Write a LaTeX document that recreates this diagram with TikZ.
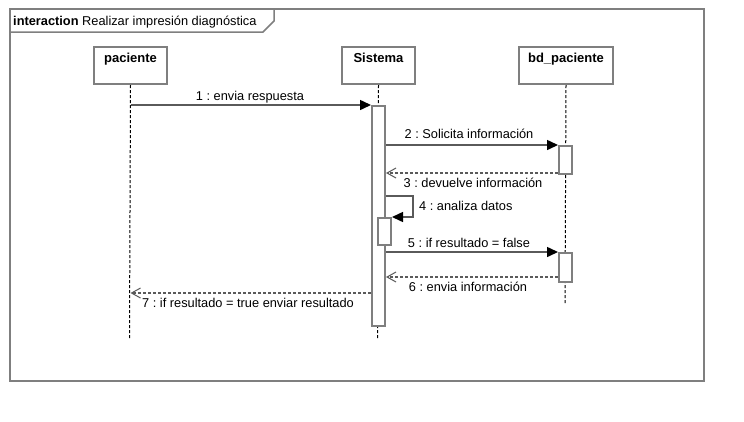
\documentclass[tikz,border=0pt]{standalone}
\usepackage{fontspec}
\setmainfont{Liberation Sans}
\usetikzlibrary{arrows.meta}
\definecolor{boxgray}{HTML}{7F7F7F}
\definecolor{msggray}{HTML}{5A5A5A}
\frenchspacing
\begin{document}
\begin{tikzpicture}[x=1pt,y=-1pt,
  every node/.style={font=\fontsize{12.8}{15}\selectfont},
  lifebox/.style={draw=boxgray, line width=2pt, fill=white, minimum height=37pt, inner sep=0pt, anchor=north west},
  boxtitle/.style={font=\bfseries\fontsize{13}{15}\selectfont, anchor=north, inner sep=0pt},
  actbar/.style={draw=boxgray, line width=2pt, fill=white, minimum width=13pt, inner sep=0pt, anchor=north west},
  lifeline/.style={draw=black, line width=1pt, dash pattern=on 3pt off 2pt},
  syncmsg/.style={draw=msggray, line width=1.5pt, -{Triangle[length=11pt,width=10pt,color=black]}},
  retmsg/.style={draw=msggray, line width=1.4pt, dash pattern=on 3pt off 2pt, -{Straight Barb[length=9pt,width=10pt,line width=1pt]}},
  msglabel/.style={inner sep=0pt, anchor=base, text=black}
]
\useasboundingbox (0,0) rectangle (744,421);
\fill[white] (0,0) rectangle (744,421);

% frame
\draw[boxgray, line width=2pt] (10,9) rectangle (704,381);
\draw[boxgray, line width=1.5pt] (10,32) -- (263,32) -- (274,21) -- (274,9);
\node[anchor=base west, inner sep=0pt] (ftitle) at (13,25) {\textbf{interaction} Realizar impresión diagnóstica};

% lifeline heads
\node[lifebox, minimum width=73pt] (pac) at (93,46) {};
\node[boxtitle] (pacT) at ([yshift=-6.5pt]pac.north) {paciente};
\node[lifebox, minimum width=73pt] (sys) at (341,46) {};
\node[boxtitle] (sysT) at ([yshift=-6.5pt]sys.north) {Sistema};
\node[lifebox, minimum width=94pt] (bd) at (518,46) {};
\node[boxtitle] (bdT) at ([yshift=-6.5pt]bd.north) {bd\_paciente};

% lifeline ends
\coordinate (pacEnd) at (129.5,338);
\coordinate (sysEnd) at (377.5,338);
\coordinate (bdEnd) at (565,303);
\draw[lifeline] (pac.south) -- (pacEnd);
\draw[lifeline] (sys.south) -- (sysEnd);
\draw[lifeline] (bd.south) -- (bdEnd);

% activation bars
\node[actbar, minimum height=220pt] (sysbar) at (371,105) {};
\node[actbar, minimum height=28pt] (bdbar1) at (558,145) {};
\node[actbar, minimum height=27pt] (sysbar2) at (377,217) {};
\node[actbar, minimum height=29pt] (bdbar2) at (558,252) {};

% messages
\draw[syncmsg] (pac.south |- sysbar.north west) -- (sysbar.north west);
\node[msglabel] (l1) at (250,100) {1 : envia respuesta};

\draw[syncmsg] (sysbar.east |- bdbar1.north west) -- (bdbar1.north west);
\node[msglabel] (l2) at (469,138) {2 : Solicita información};

\coordinate (m3) at (0,173);
\draw[retmsg] (bdbar1.west |- m3) -- (sysbar.east |- m3);
\node[msglabel] (l3) at (473,187) {3 : devuelve información};

\coordinate (selfA) at (413,196);
\coordinate (selfB) at (413,217);
\draw[syncmsg] (sysbar.east |- selfA) -- (selfA) -- (selfB) -- (sysbar2.north east);
\node[msglabel, anchor=base west] (l4) at (419,210) {4 : analiza datos};

\draw[syncmsg] (sysbar.east |- bdbar2.north west) -- (bdbar2.north west);
\node[msglabel] (l5) at (469,247) {5 : if resultado = false};

\coordinate (m6) at (0,277);
\draw[retmsg] (bdbar2.west |- m6) -- (sysbar.east |- m6);
\node[msglabel] (l6) at (468,291) {6 : envia información};

\coordinate (m7) at (0,293);
\draw[retmsg] (sysbar.west |- m7) -- (pac.south |- m7);
\node[msglabel] (l7) at (248,307) {7 : if resultado = true enviar resultado};
\end{tikzpicture}
\end{document}
